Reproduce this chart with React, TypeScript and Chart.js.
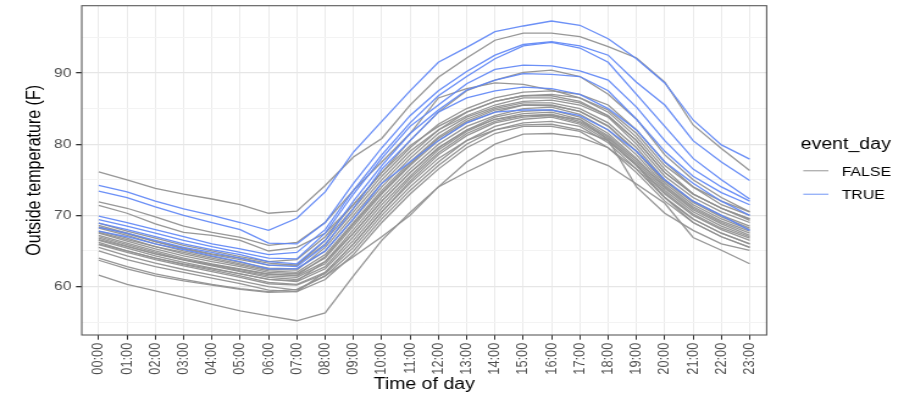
import React, { useEffect, useRef } from "react";
import { Chart, registerables } from "chart.js";

Chart.register(...registerables);

const HOURS = [
  "00:00", "01:00", "02:00", "03:00", "04:00", "05:00", "06:00", "07:00",
  "08:00", "09:00", "10:00", "11:00", "12:00", "13:00", "14:00", "15:00",
  "16:00", "17:00", "18:00", "19:00", "20:00", "21:00", "22:00", "23:00",
];

const Y_MAJOR = [60, 70, 80, 90];
const Y_MINOR = [55, 65, 75, 85, 95];

const LEGEND_TITLE = "event_day";
const LEGEND_LABELS = ["FALSE", "TRUE"];

// Non-event days (event_day = FALSE)
const FALSE_DAYS: number[][] = [
  [76.1, 75.0, 73.8, 73.0, 72.3, 71.5, 70.3, 70.6, 74.2, 78.2, 80.8, 85.5, 89.4, 92.1, 94.6, 95.6, 95.6, 95.1, 93.7, 92.1, 88.7, 82.7, 79.4, 76.3],
  [71.9, 71.0, 69.8, 68.5, 67.6, 66.9, 65.8, 66.2, 69.0, 73.5, 77.5, 81.5, 86.5, 87.8, 88.6, 88.4, 87.6, 86.5, 84.5, 81.0, 76.5, 73.0, 71.0, 69.5],
  [71.4, 70.3, 68.8, 67.6, 67.2, 66.5, 65.0, 65.5, 67.5, 71.5, 76.0, 80.5, 84.5, 87.5, 89.0, 90.1, 90.4, 89.5, 87.0, 83.5, 78.5, 75.0, 72.5, 70.5],
  [68.9, 67.8, 66.8, 65.8, 65.0, 64.2, 63.5, 63.8, 67.0, 71.5, 76.0, 79.8, 82.5, 84.5, 86.0, 86.8, 87.0, 86.5, 84.8, 81.5, 77.0, 74.0, 72.0, 70.5],
  [68.6, 67.5, 66.3, 65.3, 64.5, 63.8, 63.0, 63.0, 66.0, 70.5, 75.0, 79.0, 82.0, 84.0, 85.5, 86.5, 86.5, 85.8, 84.0, 80.5, 76.0, 73.0, 71.0, 69.5],
  [68.4, 67.4, 66.3, 65.4, 64.6, 64.0, 63.3, 63.0, 66.5, 71.0, 75.5, 79.5, 82.8, 85.0, 86.5, 87.3, 87.5, 87.0, 85.5, 82.0, 77.5, 74.0, 71.5, 70.0],
  [68.2, 67.2, 66.0, 65.0, 64.2, 63.4, 62.6, 62.5, 65.0, 69.5, 74.0, 78.0, 81.5, 83.8, 85.2, 86.0, 86.2, 85.5, 83.8, 80.0, 75.5, 72.5, 70.5, 69.0],
  [67.8, 66.8, 65.6, 64.6, 63.8, 63.0, 62.2, 62.0, 64.5, 69.0, 73.5, 77.5, 81.0, 83.5, 85.0, 85.8, 85.8, 85.0, 83.0, 79.5, 75.0, 72.0, 70.0, 68.5],
  [67.6, 66.6, 65.6, 64.8, 64.0, 63.2, 62.4, 62.3, 65.5, 70.0, 74.5, 78.5, 82.0, 84.5, 86.0, 86.8, 86.8, 86.0, 84.0, 80.5, 76.0, 73.0, 71.0, 69.3],
  [67.5, 66.4, 65.3, 64.3, 63.5, 62.8, 62.0, 61.8, 64.0, 68.5, 73.0, 77.0, 80.5, 83.0, 84.5, 85.5, 85.5, 84.6, 82.6, 79.0, 74.5, 71.5, 69.5, 68.0],
  [67.2, 66.1, 65.0, 64.0, 63.2, 62.5, 61.8, 61.5, 63.5, 68.0, 72.5, 76.5, 80.0, 82.5, 84.0, 85.0, 85.2, 84.2, 82.0, 78.5, 74.2, 71.2, 69.2, 67.8],
  [67.0, 65.9, 64.8, 63.8, 63.0, 62.2, 61.5, 61.3, 63.2, 67.5, 72.0, 76.0, 79.5, 82.0, 83.8, 84.6, 84.8, 83.8, 81.5, 78.0, 74.0, 71.0, 69.0, 67.5],
  [66.8, 65.7, 64.6, 63.7, 62.9, 62.1, 61.3, 61.0, 62.8, 67.0, 71.5, 75.5, 79.2, 81.8, 83.5, 84.3, 84.5, 83.5, 81.2, 77.8, 73.8, 70.8, 68.8, 67.2],
  [66.6, 65.6, 64.6, 63.8, 63.1, 62.4, 61.7, 61.6, 64.2, 68.8, 73.2, 77.2, 80.8, 83.2, 84.8, 85.5, 85.4, 84.6, 82.5, 79.0, 74.8, 71.8, 69.8, 68.2],
  [66.5, 65.4, 64.3, 63.4, 62.6, 61.8, 61.0, 60.7, 62.5, 66.5, 71.0, 75.2, 78.8, 81.5, 83.2, 84.0, 84.2, 83.2, 81.0, 77.5, 73.5, 70.5, 68.5, 67.0],
  [66.2, 65.0, 64.0, 63.1, 62.3, 61.5, 60.6, 60.3, 62.0, 66.0, 70.5, 74.8, 78.5, 81.2, 83.0, 83.8, 84.0, 83.0, 80.8, 77.2, 73.2, 70.2, 68.2, 66.8],
  [66.0, 65.0, 64.0, 63.2, 62.5, 61.8, 61.0, 60.8, 63.5, 67.5, 72.0, 76.0, 79.5, 82.0, 83.5, 84.0, 84.0, 83.5, 80.6, 74.0, 70.3, 67.9, 66.0, 65.1],
  [65.9, 64.8, 63.8, 62.9, 62.1, 61.3, 60.4, 60.2, 61.8, 65.5, 70.0, 74.0, 77.5, 80.5, 82.5, 83.5, 83.8, 82.8, 80.5, 77.0, 73.0, 70.0, 68.0, 66.5],
  [65.5, 64.3, 63.3, 62.4, 61.6, 60.8, 60.0, 59.5, 61.5, 65.0, 69.5, 73.5, 77.0, 80.0, 82.0, 83.0, 83.2, 82.5, 80.2, 76.5, 72.5, 69.5, 67.5, 66.0],
  [65.0, 63.8, 62.8, 62.0, 61.2, 60.4, 59.5, 59.3, 61.0, 64.5, 69.0, 73.0, 76.5, 79.5, 81.5, 82.5, 82.5, 81.8, 79.5, 76.0, 72.0, 69.0, 67.0, 65.5],
  [64.0, 62.8, 61.8, 61.0, 60.3, 59.7, 59.3, 59.6, 61.5, 64.2, 67.0, 70.0, 74.0, 77.5, 80.0, 81.4, 81.5, 81.0, 79.5, 76.5, 72.5, 69.5, 67.5, 66.0],
  [63.7, 62.5, 61.5, 60.8, 60.2, 59.6, 59.2, 59.3, 62.0, 66.0, 70.5, 74.5, 78.0, 80.5, 82.0, 82.7, 82.8, 82.0, 80.5, 77.0, 72.5, 69.0, 67.0, 65.5],
  [61.6, 60.3, 59.4, 58.5, 57.5, 56.6, 55.9, 55.2, 56.3, 61.5, 66.5, 70.4, 74.0, 76.1, 78.0, 78.9, 79.1, 78.5, 77.0, 74.4, 71.7, 66.9, 65.1, 63.2],
];

// Event days (event_day = TRUE)
const TRUE_DAYS: number[][] = [
  [74.2, 73.3, 72.0, 70.9, 70.0, 69.0, 67.9, 69.6, 73.3, 78.9, 83.2, 87.5, 91.5, 93.6, 95.8, 96.6, 97.3, 96.7, 94.8, 92.0, 88.6, 83.4, 79.9, 77.9],
  [73.4, 72.5, 71.2, 70.0, 69.0, 68.0, 66.1, 66.0, 69.0, 74.5, 79.5, 84.0, 87.5, 90.2, 92.5, 94.0, 94.4, 93.8, 92.5, 88.7, 85.5, 80.5, 77.5, 74.9],
  [69.9, 69.0, 68.0, 67.0, 66.0, 65.3, 64.5, 64.8, 68.0, 73.5, 78.5, 83.0, 86.8, 89.5, 92.0, 93.8, 94.3, 93.5, 91.5, 87.0, 82.5, 78.0, 75.0, 72.3],
  [69.4, 68.5, 67.5, 66.5, 65.6, 64.8, 64.0, 63.9, 67.5, 73.0, 78.0, 82.5, 85.5, 88.5, 90.5, 91.1, 91.0, 90.3, 89.0, 85.2, 80.5, 76.5, 74.0, 72.0],
  [68.9, 68.0, 67.0, 66.0, 65.2, 64.5, 63.5, 63.2, 66.5, 72.0, 77.0, 81.5, 84.8, 87.6, 89.0, 89.9, 89.8, 89.5, 87.5, 83.5, 79.0, 75.5, 73.2, 71.5],
  [68.3, 67.5, 66.5, 65.5, 64.8, 64.0, 63.0, 62.8, 65.8, 71.0, 76.5, 80.5, 84.5, 86.5, 87.5, 88.0, 87.8, 87.0, 85.0, 82.0, 77.5, 74.5, 72.0, 70.0],
  [67.8, 67.0, 66.0, 65.2, 64.3, 63.5, 62.5, 62.5, 65.0, 69.5, 74.5, 77.5, 80.5, 83.0, 84.5, 84.8, 84.8, 84.0, 82.0, 79.0, 75.0, 72.0, 70.0, 67.9],
];

const GRAY = "rgba(145,145,145,0.95)";
const BLUE = "rgba(95,135,245,0.92)";
const GRAY_KEY = "rgba(160,160,160,0.8)";
const BLUE_KEY = "rgba(120,155,245,0.75)";
const FONT = "'Liberation Sans', Arial, Helvetica, sans-serif";

// canvas is rendered narrower and stretched horizontally like the reference
const CANVAS_W = 750;
const CANVAS_H = 399;

const panelBorder = {
  id: "panelBorder",
  afterDatasetsDraw(chart: any) {
    const { ctx, chartArea } = chart;
    ctx.save();
    ctx.strokeStyle = "#5a5a5a";
    ctx.lineWidth = 1.1;
    ctx.strokeRect(chartArea.left, chartArea.top, chartArea.right - chartArea.left, chartArea.bottom - chartArea.top);
    ctx.restore();
  },
};

const sideLegend = {
  id: "sideLegend",
  afterDraw(chart: any) {
    const { ctx } = chart;
    ctx.save();
    ctx.fillStyle = "#000";
    ctx.textBaseline = "alphabetic";
    ctx.textAlign = "left";
    ctx.font = `16px ${FONT}`;
    ctx.fillText(LEGEND_TITLE, 656.3, 148.5);
    const keys = [GRAY_KEY, BLUE_KEY];
    const ys = [170.7, 194.3];
    ctx.font = `13px ${FONT}`;
    LEGEND_LABELS.forEach((lab, i) => {
      ctx.strokeStyle = keys[i];
      ctx.lineWidth = 1.4;
      ctx.beginPath();
      ctx.moveTo(658.4, ys[i]);
      ctx.lineTo(679, ys[i]);
      ctx.stroke();
      ctx.fillStyle = "#000";
      ctx.fillText(lab, 689.9, ys[i] + 5);
    });
    ctx.restore();
  },
};

export default function App() {
  const ref = useRef<HTMLCanvasElement | null>(null);

  useEffect(() => {
    document.body.style.margin = "0";
    const canvas = ref.current;
    if (!canvas) return;

    const datasets: any[] = [];
    FALSE_DAYS.forEach((vals, k) => {
      datasets.push({
        label: `FALSE ${k + 1}`,
        data: vals.map((y, i) => ({ x: i, y })),
        borderColor: GRAY,
        borderWidth: 1.3,
        pointRadius: 0,
        fill: false,
        tension: 0,
        order: 2,
      });
    });
    TRUE_DAYS.forEach((vals, k) => {
      datasets.push({
        label: `TRUE ${k + 1}`,
        data: vals.map((y, i) => ({ x: i, y })),
        borderColor: BLUE,
        borderWidth: 1.3,
        pointRadius: 0,
        fill: false,
        tension: 0,
        order: 1,
      });
    });

    const yTickVals = [...Y_MAJOR, ...Y_MINOR].sort((a, b) => a - b);
    const isMajor = (v: number) => Y_MAJOR.includes(v);

    const chart = new Chart(canvas, {
      type: "line",
      data: { datasets },
      options: {
        responsive: false,
        animation: false,
        devicePixelRatio: 1,
        layout: { padding: { top: 5.7, right: 121.6, left: 0, bottom: 0 } },
        plugins: {
          legend: { display: false },
          tooltip: { enabled: false },
        },
        scales: {
          x: {
            type: "linear",
            min: -0.6,
            max: 23.6,
            afterFit: (s: any) => {
              s.height = 64;
              s.paddingLeft = 0;
              s.paddingRight = 0;
            },
            afterBuildTicks: (s: any) => { s.ticks = HOURS.map((_, i) => ({ value: i })); },
            ticks: {
              autoSkip: false,
              minRotation: 90,
              maxRotation: 90,
              padding: 3,
              color: "#4d4d4d",
              font: { family: FONT, size: 12.8 },
              callback: (v: any) => HOURS[Math.round(Number(v))] ?? "",
            },
            grid: { color: "#ebebeb", lineWidth: 1, tickLength: 4.7, tickColor: "#333" },
            border: { display: false },
            title: {
              display: true,
              text: "Time of day",
              color: "#000",
              font: { family: FONT, size: 16 },
              padding: { top: 0, bottom: 4.4 },
            },
          },
          y: {
            type: "linear",
            min: 53.2,
            max: 99.45,
            afterFit: (s: any) => {
              s.width = 67;
              s.paddingTop = 0;
              s.paddingBottom = 0;
            },
            afterBuildTicks: (s: any) => { s.ticks = yTickVals.map((v) => ({ value: v })); },
            ticks: {
              padding: 3.8,
              color: "#4d4d4d",
              font: { family: FONT, size: 12.8 },
              callback: (v: any) => (isMajor(Number(v)) ? String(v) : ""),
            },
            grid: {
              color: (c: any) => (c.tick && isMajor(c.tick.value) ? "#e6e6e6" : "#f3f3f3"),
              lineWidth: (c: any) => (c.tick && isMajor(c.tick.value) ? 1.3 : 1),
              tickLength: 4.7,
              tickColor: (c: any) => (c.tick && isMajor(c.tick.value) ? "#333" : "rgba(0,0,0,0)"),
            },
            border: { display: false },
            title: {
              display: true,
              text: "Outside temperature (F)",
              color: "#000",
              font: { family: FONT, size: 16 },
              padding: { top: 19, bottom: 0 },
            },
          },
        },
      },
      plugins: [panelBorder, sideLegend],
    } as any);

    return () => chart.destroy();
  }, []);

  return (
    <canvas
      ref={ref}
      width={CANVAS_W}
      height={CANVAS_H}
      style={{ display: "block", width: "915px", height: "399px" }}
    />
  );
}
